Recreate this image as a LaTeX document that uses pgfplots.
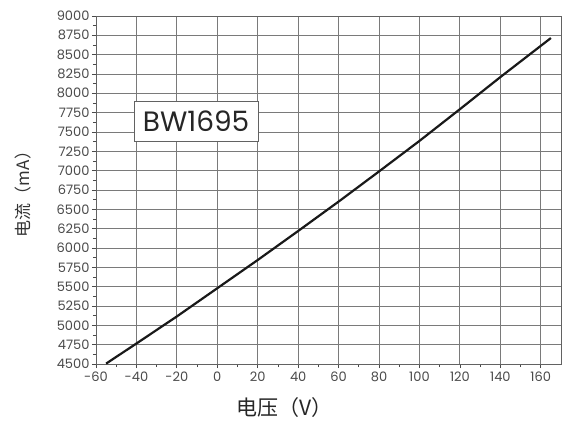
\documentclass[border=0pt]{standalone}
\usepackage{fontspec}
\setmainfont{Poppins}
\newfontfamily\cjk{Noto Sans CJK SC}
\usepackage{pgfplots}
\pgfplotsset{compat=1.18}
\definecolor{gridc}{HTML}{7A7A7A}
\definecolor{tickc}{HTML}{4A4A4A}
\begin{document}
\begin{tikzpicture}
\begin{axis}[
  scale only axis,
  width=465bp, height=348bp,
  xmin=-60, xmax=170, ymin=4500, ymax=9000,
  xtick={-60,-40,...,160},
  xticklabels={{-60},{-40},{-20},{0},{20},{40},{60},{80},{100},{120},{140},{160}},
  ytick={4500,4750,...,9000},
  minor x tick num=1,
  minor y tick num=1,
  grid=major,
  major grid style={gridc, line width=0.9pt},
  axis line style={gridc!80!black, line width=1pt},
  tick align=outside,
  major tick length=4bp, minor tick length=3bp,
  tick style={tickc, line width=0.8pt},
  xtick pos=bottom, ytick pos=left,
  /pgf/number format/assume math mode=true,
  /pgf/number format/set thousands separator={},
  tick label style={font=\fontsize{13bp}{15bp}\selectfont, text=tickc},
  yticklabel style={xshift=1bp},
  xlabel={\cjk 电压（V）},
  xlabel style={font=\fontsize{21bp}{24bp}\selectfont, text=black!85, at={(axis description cs:0.405,-0.124)}, anchor=center},
  ylabel={\cjk 电流（mA）},
  ylabel style={font=\fontsize{17bp}{20bp}\selectfont, text=black!80, at={(axis description cs:-0.157,0.5)}, anchor=center},
  clip=false,
]
\addplot[black!90, line width=2.2bp] coordinates {
(-55,4505) (-40,4765) (-20,5115) (0,5480) (20,5845) (40,6220) (60,6600) (80,6990) (100,7385) (120,7795) (140,8210) (165,8715)
};
\node[draw=gridc!80!black, line width=1pt, fill=white, minimum width=124bp, minimum height=40bp, inner sep=0pt,
  font=\fontsize{28bp}{30bp}\selectfont, text=black!85] at (axis cs:-10.5,7642) {BW1695};
\coordinate (ll) at (rel axis cs:0,0);
\coordinate (ur) at (rel axis cs:1,1);
\end{axis}
\pgfresetboundingbox
\path ([shift={(-96bp,-61bp)}]ll) rectangle ([shift={(3bp,16bp)}]ur);
\end{tikzpicture}
\end{document}
